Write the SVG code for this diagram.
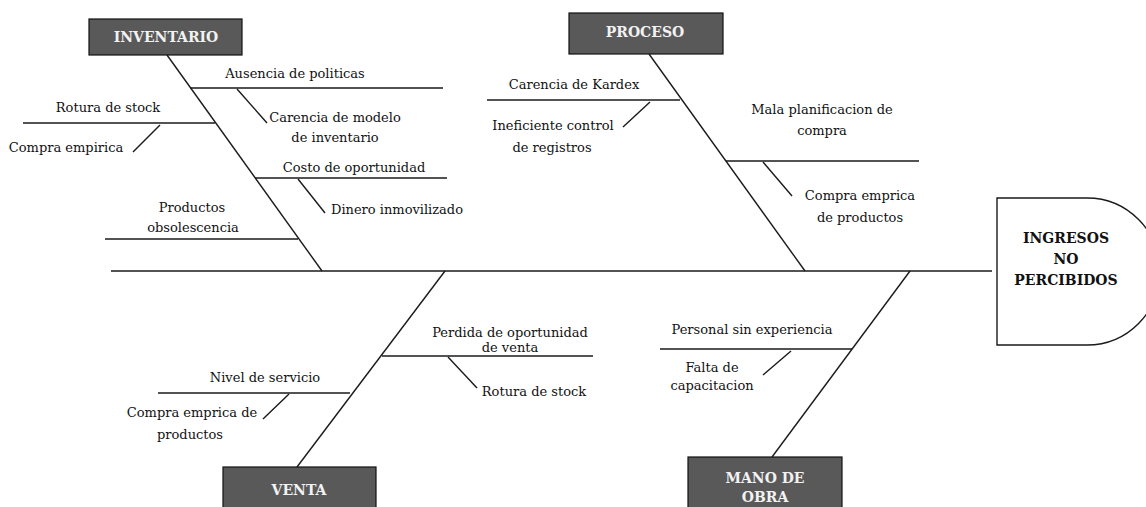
<svg xmlns="http://www.w3.org/2000/svg" width="1146" height="507" viewBox="0 0 1146 507">
<style>
.ln{stroke:#1a1a1a;stroke-width:1.4;fill:none}
.box{fill:#595959;stroke:#111;stroke-width:1.2}
.lbl{font-family:"DejaVu Serif",serif;font-size:13px;fill:#111;text-anchor:middle}
.hd{font-family:"DejaVu Serif",serif;font-size:14px;font-weight:bold;fill:#f2f2f2;text-anchor:middle}
.eff{font-family:"DejaVu Serif",serif;font-size:14px;font-weight:bold;fill:#111;text-anchor:middle}
</style>
<rect width="1146" height="507" fill="#fff"/>
<g id="connectors">
<line class="ln" x1="111" y1="271" x2="992" y2="271"/>
<line class="ln" x1="167" y1="55" x2="322" y2="271"/>
<line class="ln" x1="190" y1="88" x2="443" y2="88"/>
<line class="ln" x1="237" y1="89" x2="267" y2="123"/>
<line class="ln" x1="23" y1="123" x2="215" y2="123"/>
<line class="ln" x1="160" y1="125" x2="133" y2="152"/>
<line class="ln" x1="255" y1="178" x2="447" y2="178"/>
<line class="ln" x1="298" y1="179" x2="325" y2="213"/>
<line class="ln" x1="105" y1="239" x2="298" y2="239"/>
<line class="ln" x1="649" y1="54" x2="805" y2="271"/>
<line class="ln" x1="487" y1="100" x2="680" y2="100"/>
<line class="ln" x1="650" y1="102" x2="623" y2="127"/>
<line class="ln" x1="726" y1="161" x2="919" y2="161"/>
<line class="ln" x1="763" y1="162" x2="792" y2="196"/>
<line class="ln" x1="445" y1="271" x2="297" y2="467"/>
<line class="ln" x1="382" y1="356" x2="593" y2="356"/>
<line class="ln" x1="448" y1="357" x2="477" y2="388"/>
<line class="ln" x1="158" y1="393" x2="350" y2="393"/>
<line class="ln" x1="289" y1="394" x2="263" y2="419"/>
<line class="ln" x1="910" y1="271" x2="772" y2="457"/>
<line class="ln" x1="660" y1="349" x2="852" y2="349"/>
<line class="ln" x1="791" y1="351" x2="763" y2="375"/>
</g>
<g id="inventario">
<rect class="box" x="89" y="19" width="153" height="36"/>
<text class="hd" x="166" y="42">INVENTARIO</text>
</g>
<g id="proceso">
<rect class="box" x="569" y="13" width="154" height="41"/>
<text class="hd" x="645" y="37">PROCESO</text>
</g>
<g id="venta">
<rect class="box" x="223" y="467" width="153" height="45"/>
<text class="hd" x="299" y="495">VENTA</text>
</g>
<g id="mano-de-obra">
<rect class="box" x="688" y="457" width="154" height="55"/>
<text class="hd" x="765" y="483">MANO DE</text>
<text class="hd" x="765" y="502">OBRA</text>
</g>
<g id="efecto">
<path class="ln" d="M997,198 H1087 A73,73.5 0 0 1 1087,345 H997 Z" fill="#fff"/>
<text class="eff" x="1066" y="243">INGRESOS</text>
<text class="eff" x="1066" y="264">NO</text>
<text class="eff" x="1066" y="285">PERCIBIDOS</text>
</g>
<g id="labels">
<text class="lbl" x="295" y="78">Ausencia de politicas</text>
<text class="lbl" x="335" y="122">Carencia de modelo</text>
<text class="lbl" x="335" y="142">de inventario</text>
<text class="lbl" x="108" y="112">Rotura de stock</text>
<text class="lbl" x="66" y="152">Compra empirica</text>
<text class="lbl" x="354" y="172">Costo de oportunidad</text>
<text class="lbl" x="397" y="214">Dinero inmovilizado</text>
<text class="lbl" x="192" y="212">Productos</text>
<text class="lbl" x="193" y="232">obsolescencia</text>
<text class="lbl" x="574" y="89">Carencia de Kardex</text>
<text class="lbl" x="553" y="130">Ineficiente control</text>
<text class="lbl" x="552" y="152">de registros</text>
<text class="lbl" x="822" y="114">Mala planificacion de</text>
<text class="lbl" x="822" y="135">compra</text>
<text class="lbl" x="860" y="200">Compra emprica</text>
<text class="lbl" x="860" y="222">de productos</text>
<text class="lbl" x="510" y="337">Perdida de oportunidad</text>
<text class="lbl" x="510" y="352">de venta</text>
<text class="lbl" x="534" y="396">Rotura de stock</text>
<text class="lbl" x="265" y="382">Nivel de servicio</text>
<text class="lbl" x="192" y="417">Compra emprica de</text>
<text class="lbl" x="190" y="439">productos</text>
<text class="lbl" x="752" y="334">Personal sin experiencia</text>
<text class="lbl" x="712" y="372">Falta de</text>
<text class="lbl" x="712" y="390">capacitacion</text>
</g>
</svg>
